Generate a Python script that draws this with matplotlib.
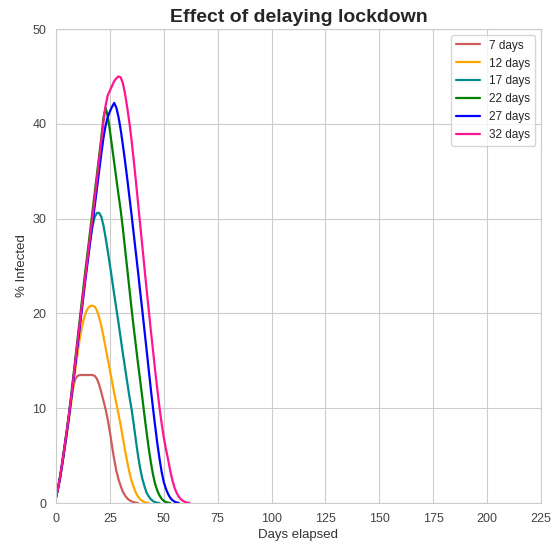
import matplotlib
matplotlib.use("Agg")
import matplotlib.pyplot as plt
import seaborn as sns

sns.set_style("whitegrid")
plt.rcParams['font.family'] = ['Liberation Sans', 'DejaVu Sans']

days = list(range(64))

labels = ["7 days", "12 days", "17 days", "22 days", "27 days", "32 days"]
colors = ["indianred", "orange", "darkcyan", "green", "blue", "deeppink"]

d7 = [0.6, 1.6, 2.8, 4.3, 5.9, 7.5, 9.2, 10.9, 12.3, 13.1,
      13.4, 13.5, 13.5, 13.5, 13.5, 13.5, 13.5, 13.5, 13.4, 13.1,
      12.5, 11.7, 10.8, 9.9, 8.8, 7.5, 6.0, 4.6, 3.4, 2.5,
      1.8, 1.2, 0.8, 0.5, 0.3, 0.18, 0.09, 0.03, 0.0]
d12 = [0.6, 1.6, 2.8, 4.2, 5.7, 7.2, 8.8, 10.5, 12.3, 14.1,
       15.8, 17.3, 18.5, 19.5, 20.2, 20.6, 20.8, 20.8, 20.7, 20.3,
       19.6, 18.7, 17.6, 16.4, 15.2, 14.0, 12.8, 11.6, 10.5, 9.4,
       8.2, 6.9, 5.6, 4.4, 3.3, 2.4, 1.7, 1.1, 0.7, 0.4,
       0.22, 0.1, 0.03, 0.0]
d17 = [0.6, 1.6, 2.8, 4.3, 5.9, 7.5, 9.2, 11.0, 12.9, 14.9,
       16.9, 18.9, 20.9, 22.8, 24.6, 26.3, 27.9, 29.3, 30.2, 30.6,
       30.6, 30.2, 29.3, 28.0, 26.6, 25.1, 23.6, 22.0, 20.5, 19.0,
       17.4, 15.8, 14.3, 12.8, 11.3, 10.0, 8.4, 6.7, 5.1, 3.7,
       2.6, 1.8, 1.1, 0.7, 0.4, 0.2, 0.09, 0.03, 0.0]
d22 = [0.6, 1.7, 3.0, 4.5, 6.1, 7.7, 9.4, 11.3, 13.3, 15.3,
       17.3, 19.3, 21.3, 23.3, 25.2, 27.1, 29.0, 30.9, 32.8, 34.7,
       36.6, 38.5, 40.6, 41.7, 40.8, 39.3, 37.6, 35.9, 34.2, 32.5,
       30.9, 29.0, 26.9, 24.8, 22.7, 20.6, 18.6, 16.7, 14.8, 13.0,
       11.2, 9.3, 7.5, 5.8, 4.3, 3.0, 2.0, 1.3, 0.8, 0.45,
       0.22, 0.1, 0.03, 0.0]
d27 = [0.6, 1.6, 2.8, 4.3, 5.8, 7.4, 9.1, 10.9, 12.8, 14.7,
       16.6, 18.5, 20.4, 22.3, 24.2, 26.0, 27.8, 29.6, 31.4, 33.2,
       35.0, 36.8, 38.5, 39.8, 40.7, 41.3, 41.8, 42.2, 41.7, 40.7,
       39.4, 37.8, 36.1, 34.3, 32.4, 30.5, 28.5, 26.5, 24.5, 22.4,
       20.4, 18.3, 16.2, 14.1, 12.0, 10.0, 8.1, 6.3, 4.7, 3.3,
       2.2, 1.5, 0.95, 0.55, 0.3, 0.14, 0.05, 0.0]
d32 = [0.6, 1.6, 2.9, 4.4, 6.0, 7.6, 9.3, 11.1, 13.0, 15.0,
       17.0, 18.9, 20.8, 22.7, 24.6, 26.5, 28.4, 30.3, 32.2, 34.2,
       36.2, 38.2, 40.2, 41.9, 43.0, 43.5, 44.0, 44.5, 44.8, 45.0,
       44.9, 44.3, 43.2, 41.8, 40.2, 38.4, 36.3, 34.1, 31.8, 29.5,
       27.2, 24.9, 22.6, 20.4, 18.2, 16.1, 14.0, 12.0, 10.1, 8.4,
       6.9, 5.7, 4.6, 3.4, 2.4, 1.6, 1.05, 0.65, 0.38, 0.2,
       0.09, 0.03, 0.0]

series = [d7, d12, d17, d22, d27, d32]

fig = plt.figure(figsize=(5.59, 5.45), dpi=100)
ax = fig.add_axes([56/559, 1-503/545, (541-56)/559, (503-29)/545])

for vals, lab, col in zip(series, labels, colors):
    ax.plot(days[:len(vals)], vals, color=col, label=lab, linewidth=1.6)

ax.set_xlim(0, 225)
ax.set_ylim(0, 50)
ax.set_xticks(range(0, 226, 25))
ax.set_yticks(range(0, 51, 10))
ax.tick_params(labelsize=9, colors='#444444')
ax.set_xlabel("Days elapsed", fontsize=9.5, labelpad=3, color='#333333')
ax.set_ylabel("% Infected", fontsize=9.5, labelpad=3, color='#333333')
ax.set_title("Effect of delaying lockdown", fontsize=14, fontweight="bold",
             pad=5, color='#262626')
ax.legend(loc="upper right", fontsize=8.5)

fig.savefig("out.png", dpi=100)
